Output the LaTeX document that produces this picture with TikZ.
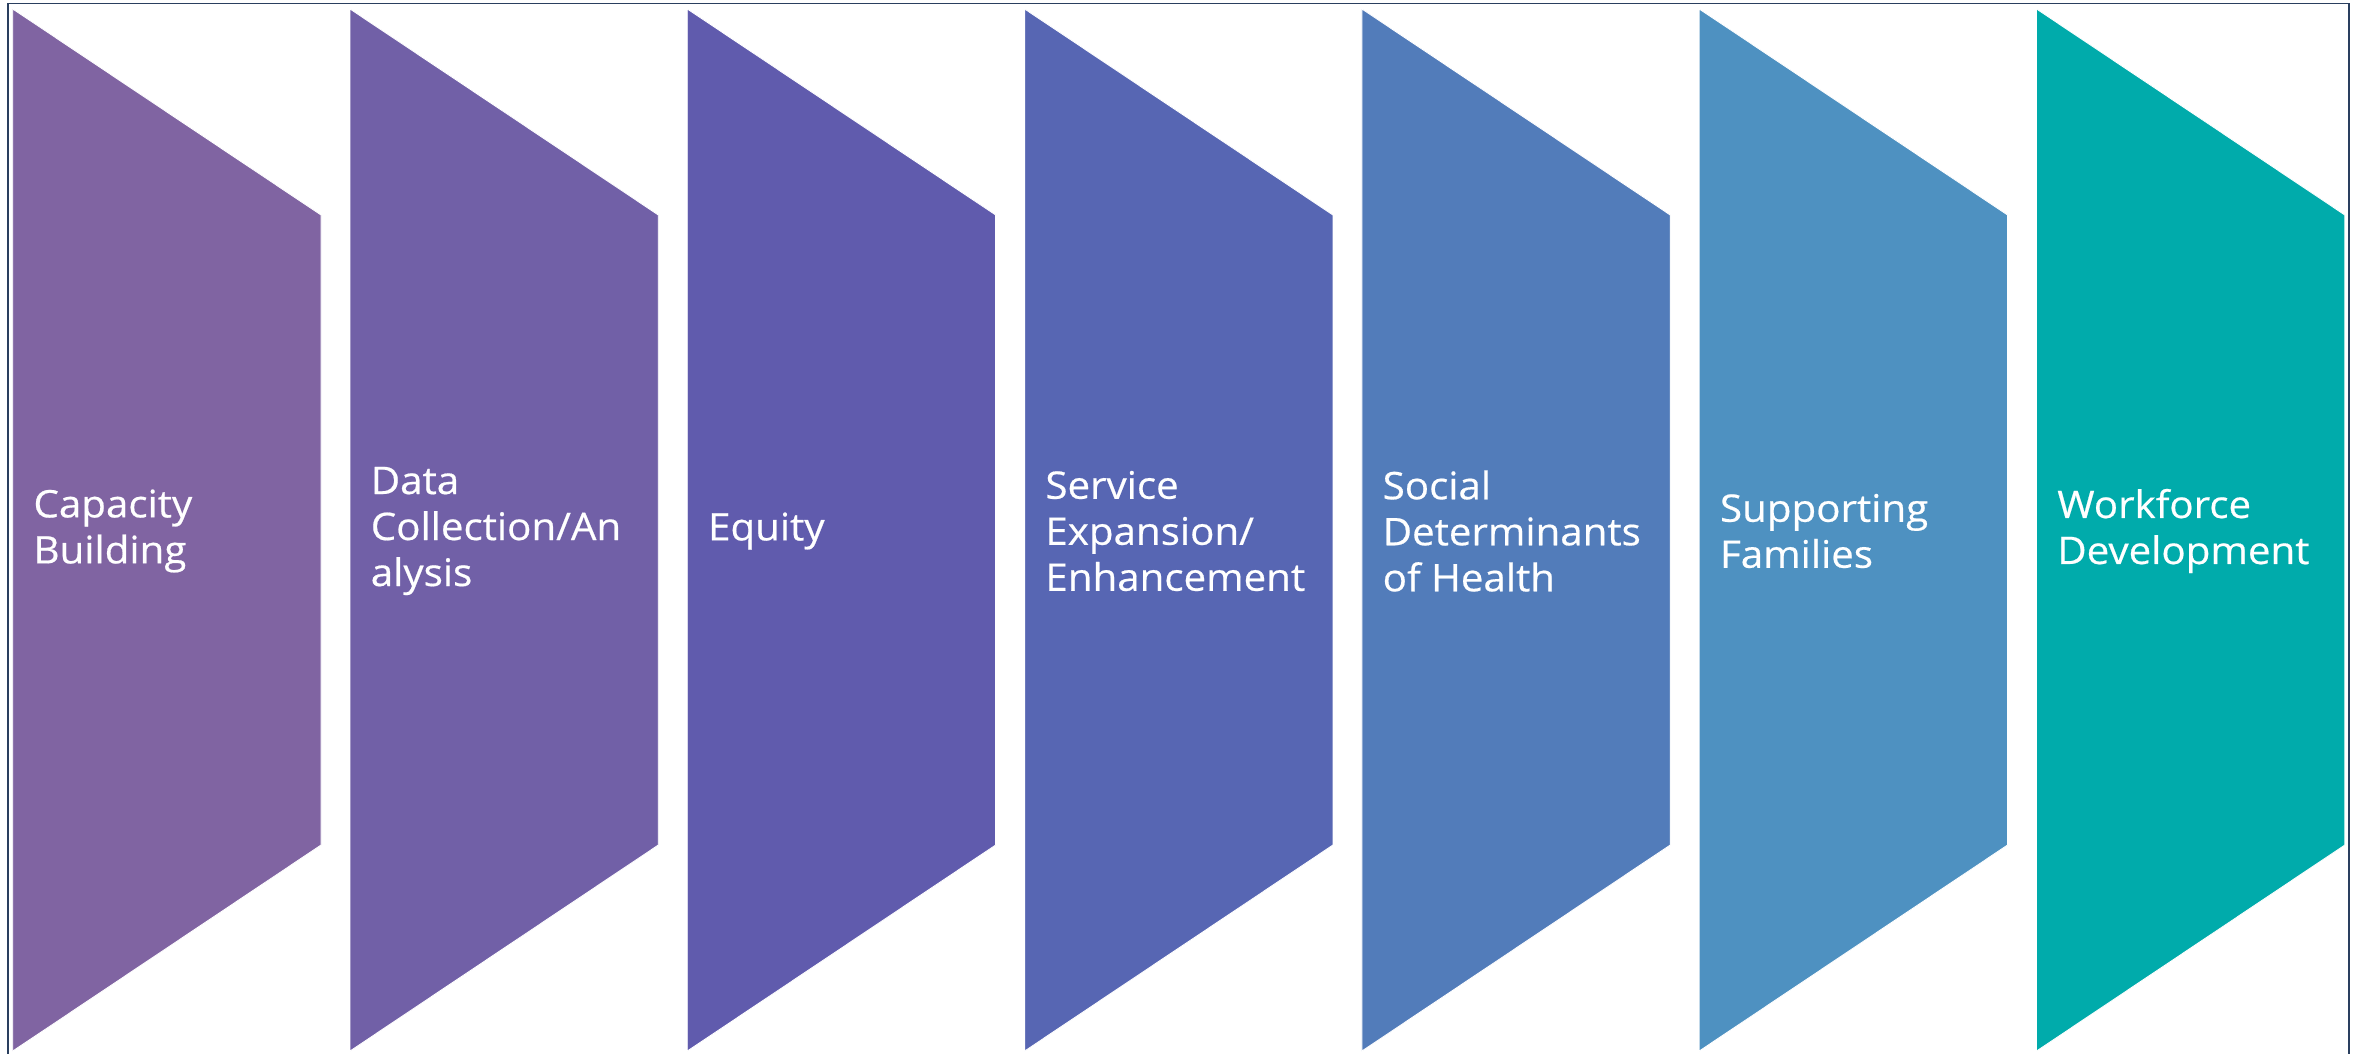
\documentclass[tikz,border=0pt]{standalone}
\usepackage{fontspec}
\newfontfamily\lblfont[FakeStretch=1.06,FakeBold=0.5]{Open Sans}
\definecolor{frameblue}{HTML}{2A3F5F}
\definecolor{cA}{HTML}{8064A2}
\definecolor{cB}{HTML}{7160A7}
\definecolor{cC}{HTML}{605BAD}
\definecolor{cD}{HTML}{5766B3}
\definecolor{cE}{HTML}{527CBA}
\definecolor{cF}{HTML}{4E91C1}
\definecolor{cG}{HTML}{00ABAB}
\tikzset{
  framebox/.style={draw=frameblue, line width=1.6pt},
  chevshape/.style={draw=white, line width=0.8pt},
  lbl/.style={text=white, inner sep=0pt, anchor=west, align=left,
    font=\lblfont\fontsize{38pt}{46pt}\selectfont}
}
\begin{document}
\begin{tikzpicture}[x=1pt,y=-1pt]
\useasboundingbox (0,0) rectangle (2361,1053);
\clip (0,0) rectangle (2361,1053);
\fill[white] (0,0) rectangle (2361,1053);
\draw[framebox] (8,3.5) rectangle (2349,1080);
\foreach \i/\c/\t in {0/cA/{Capacity\\Building},
                      1/cB/{Data\\Collection/An\\alysis},
                      2/cC/{Equity},
                      3/cD/{Service\\Expansion/\\Enhancement},
                      4/cE/{Social\\Determinants\\of Health},
                      5/cF/{Supporting\\Families},
                      6/cG/{Workforce\\Development}} {
  \pgfmathsetmacro\xl{12.7+337.3*\i}
  \pgfmathsetmacro\xr{\xl+308.3}
  \fill[\c, chevshape] (\xl,9) -- (\xr,215) -- (\xr,845) -- (\xl,1051) -- cycle;
  \node[lbl] (t\i) at (\xl+20.6,531) {\t};
}
\end{tikzpicture}
\end{document}
